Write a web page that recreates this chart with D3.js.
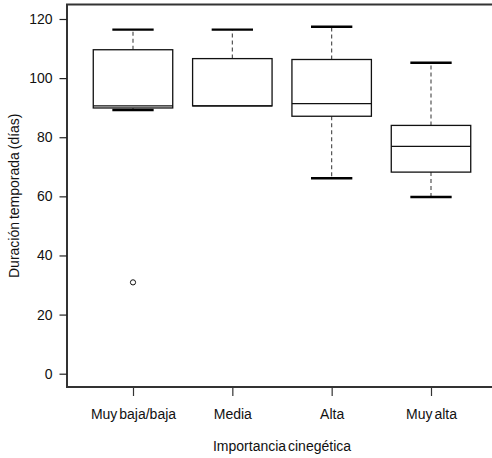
<!DOCTYPE html>
<html>
<head>
<meta charset="utf-8">
<script src="https://cdn.jsdelivr.net/npm/d3@7"></script>
<style>
  html, body { margin: 0; padding: 0; background: #fff; }
  svg { display: block; }
  text { font-family: "Liberation Sans", Arial, sans-serif; fill: #111; }
</style>
</head>
<body>
<div id="chart"></div>
<script>
// Season length (days) by hunting importance class: five-number summaries
const categories   = ["Muy baja/baja", "Media", "Alta", "Muy alta"];
const lowWhisker   = [89.2, 90.6, 66.1, 59.8];
const q1           = [89.9, 90.6, 87.1, 68.2];
const median       = [90.6, 90.6, 91.4, 76.9];
const q3           = [109.6, 106.6, 106.3, 84.0];
const highWhisker  = [116.4, 116.4, 117.4, 105.2];
const outliers     = [[30.9], [], [], []];
const yTicks       = [0, 20, 40, 60, 80, 100, 120];

const xTitle = "Importancia cinegética";
const yTitle = "Duración temporada (días)";

const W = 492, H = 458;
const frame = { left: 67, top: 4.5, bottom: 387, right: 497 };

const svg = d3.select("#chart").append("svg")
  .attr("width", W).attr("height", H);

const x = d3.scalePoint().domain(categories).range([133, 431]);
const step = x.step();
const boxW = step * 0.8;
const capW = boxW * 0.52;

const y = d3.scaleLinear().domain([0, 120]).range([373.7, 19]);

const boxes = categories.map((c, i) => ({
  cat: c, lw: lowWhisker[i], q1: q1[i], med: median[i], q3: q3[i], hw: highWhisker[i], out: outliers[i]
}));

// Plot frame (left, top and bottom edges; the right edge runs off the canvas)
svg.append("path")
  .attr("d", `M${frame.right},${frame.top}H${frame.left}V${frame.bottom}H${frame.right}`)
  .attr("fill", "none").attr("stroke", "#333").attr("stroke-width", 2);

// Y axis
const yAxis = svg.append("g")
  .attr("transform", `translate(${frame.left},0)`)
  .call(d3.axisLeft(y).tickValues(yTicks).tickSize(7.5).tickPadding(7).tickSizeOuter(0));
yAxis.select(".domain").remove();
yAxis.selectAll(".tick line").attr("stroke", "#222").attr("stroke-width", 1.2);
yAxis.selectAll(".tick text").style("font-size", "14px").attr("fill", "#111");

// X axis
const xAxis = svg.append("g")
  .attr("transform", `translate(0,${frame.bottom})`)
  .call(d3.axisBottom(x).tickSize(9).tickPadding(13).tickSizeOuter(0));
xAxis.select(".domain").remove();
xAxis.selectAll(".tick line").attr("stroke", "#333").attr("stroke-width", 1.2);
xAxis.selectAll(".tick text").style("font-size", "14px").style("word-spacing", "-2px")
  .attr("fill", "#111");

// Boxplots
const g = svg.append("g").selectAll("g").data(boxes).join("g")
  .attr("transform", d => `translate(${x(d.cat)},0)`);

// dashed whiskers
g.append("line")
  .attr("x1", 0).attr("x2", 0)
  .attr("y1", d => y(d.q3)).attr("y2", d => y(d.hw))
  .attr("stroke", "#444").attr("stroke-width", 1.1).attr("stroke-dasharray", "4,3");
g.filter(d => d.lw < d.q1).append("line")
  .attr("x1", 0).attr("x2", 0)
  .attr("y1", d => y(d.q1)).attr("y2", d => y(d.lw))
  .attr("stroke", "#444").attr("stroke-width", 1.1).attr("stroke-dasharray", "4,3");

// staples
g.append("line")
  .attr("x1", -capW / 2).attr("x2", capW / 2)
  .attr("y1", d => y(d.hw)).attr("y2", d => y(d.hw))
  .attr("stroke", "#000").attr("stroke-width", 2.4);
g.filter(d => d.lw < d.q1).append("line")
  .attr("x1", -capW / 2).attr("x2", capW / 2)
  .attr("y1", d => y(d.lw)).attr("y2", d => y(d.lw))
  .attr("stroke", "#000").attr("stroke-width", 2.4);

// boxes
g.append("rect")
  .attr("x", -boxW / 2).attr("width", boxW)
  .attr("y", d => y(d.q3)).attr("height", d => y(d.q1) - y(d.q3))
  .attr("fill", "#fff").attr("stroke", "#111").attr("stroke-width", 1.3);

// medians
g.append("line")
  .attr("x1", -boxW / 2).attr("x2", boxW / 2)
  .attr("y1", d => y(d.med)).attr("y2", d => y(d.med))
  .attr("stroke", "#111").attr("stroke-width", 1.3);

// outliers
g.selectAll("circle").data(d => d.out).join("circle")
  .attr("cx", 0).attr("cy", v => y(v)).attr("r", 2.6)
  .attr("fill", "none").attr("stroke", "#111").attr("stroke-width", 1);

// Axis titles
svg.append("text")
  .attr("x", (frame.left + frame.right) / 2).attr("y", 450.5)
  .attr("text-anchor", "middle").style("font-size", "14px").style("word-spacing", "-2px")
  .text(xTitle);

svg.append("text")
  .attr("transform", `translate(19,${(frame.top + frame.bottom) / 2}) rotate(-90)`)
  .attr("text-anchor", "middle").style("font-size", "14px").style("word-spacing", "-1px")
  .text(yTitle);
</script>
</body>
</html>
